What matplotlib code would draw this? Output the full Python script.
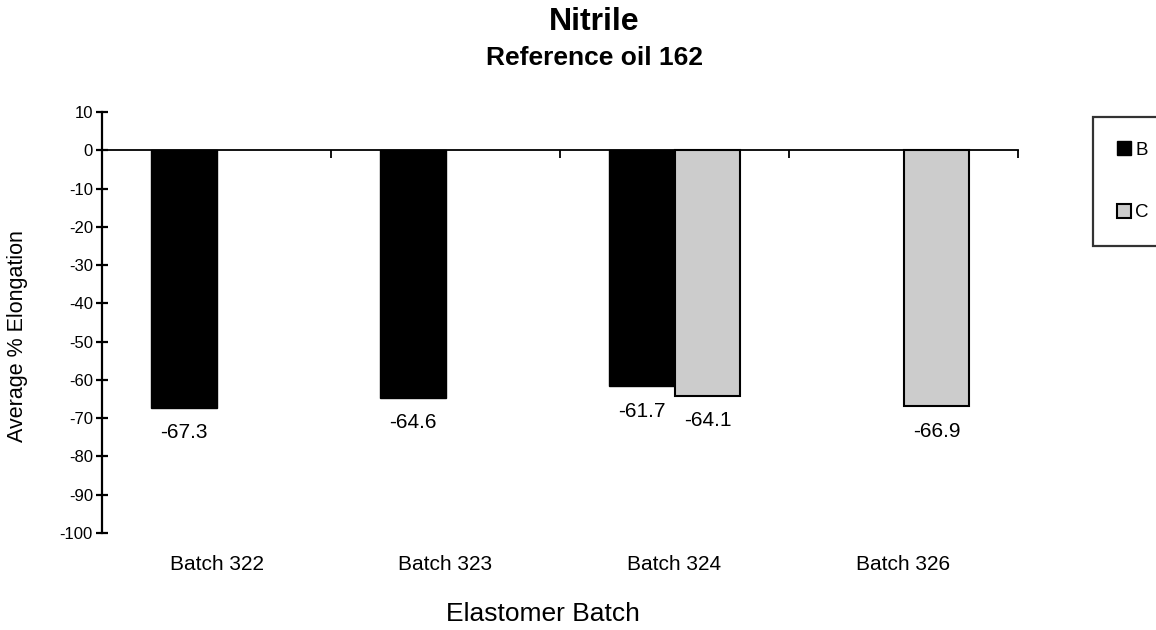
import numpy as np
import matplotlib
matplotlib.use("Agg")
import matplotlib.pyplot as plt

plt.rcParams['font.family'] = ['Liberation Sans', 'DejaVu Sans']

# data
categories = ["Batch 322", "Batch 323", "Batch 324", "Batch 326"]
b_values = [-67.3, -64.6, -61.7, np.nan]
c_values = [np.nan, np.nan, -64.1, -66.9]
series_names = ["B", "C"]
y_ticks = list(range(-100, 11, 10))

W, H = 1156, 630
fig = plt.figure(figsize=(W / 100, H / 100), dpi=100)
ax = fig.add_axes([102 / W, 1 - 533 / H, (1018 - 102) / W, (533 - 112) / H])

centers = np.arange(len(categories)) + 0.5
bw = 0.288

bars_b = ax.bar(centers - bw / 2, b_values, bw, color="black", edgecolor="black",
                linewidth=1.0, label=series_names[0], zorder=3)
bars_c = ax.bar(centers + bw / 2, c_values, bw, color="#cccccc", edgecolor="black",
                linewidth=1.5, label=series_names[1], zorder=3)

# value labels under the bar ends
for bars, vals in [(bars_b, b_values), (bars_c, c_values)]:
    for rect, v in zip(bars, vals):
        if np.isnan(v):
            continue
        ax.annotate(f"{v:.1f}", (rect.get_x() + rect.get_width() / 2, v),
                    xytext=(0, -18), textcoords="offset points",
                    ha="center", va="center", fontsize=15)

ax.set_xlim(0, len(categories))
ax.set_ylim(-100, 10)
ax.set_yticks(y_ticks)
ax.set_yticklabels([str(t) for t in y_ticks], fontsize=12)

# spines: left axis, zero line as x axis
for s in ["top", "right"]:
    ax.spines[s].set_visible(False)
ax.spines["bottom"].set_position(("data", 0))
ax.spines["bottom"].set_linewidth(1.3)
ax.spines["left"].set_linewidth(1.6)
ax.tick_params(axis="y", direction="inout", length=9, width=1.6, pad=2)
ax.set_xticks(np.arange(len(categories) + 1))
ax.set_xticklabels([])
ax.tick_params(axis="x", direction="out", length=6, width=1.3)

# category labels below the plot
for c, name in zip(centers, categories):
    ax.text(c, -108.2, name, ha="center", va="center", fontsize=15,
            transform=ax.transData, clip_on=False)

fig.text(543 / W, 1 - 614 / H, "Elastomer Batch", ha="center", va="center", fontsize=19)
fig.text(17.5 / W, 1 - 336 / H, "Average % Elongation", ha="center", va="center",
         rotation=90, fontsize=15.5)
fig.text(594 / W, 1 - 22 / H, "Nitrile", ha="center", va="center",
         fontsize=23, fontweight="bold")
fig.text(594 / W, 1 - 58 / H, "Reference oil 162", ha="center", va="center",
         fontsize=19, fontweight="bold")

leg = fig.legend(handles=[bars_b, bars_c], labels=series_names,
                 loc="upper left", bbox_to_anchor=(1093 / W, 1 - 117 / H),
                 fontsize=13.5, frameon=True, fancybox=False, borderpad=1.3,
                 labelspacing=2.4, handlelength=0.75, handleheight=0.75,
                 handletextpad=0.2, borderaxespad=0)
leg.get_frame().set_edgecolor("black")
leg.get_frame().set_linewidth(1.6)

fig.savefig("out.png", dpi=100)
